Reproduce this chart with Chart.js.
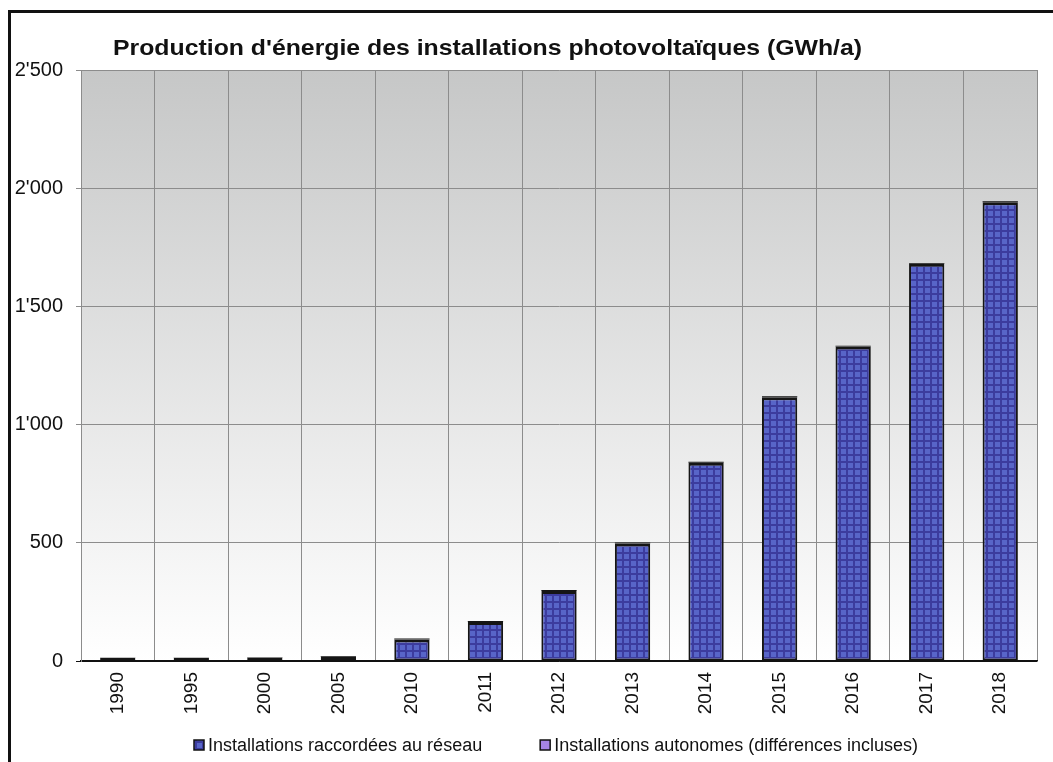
<!DOCTYPE html>
<html lang="fr">
<head>
    <meta charset="UTF-8">
    <title>Production d'énergie des installations photovoltaïques</title>
    <script src="https://cdn.jsdelivr.net/npm/chart.js"></script>
    <style>
        body { margin: 0; background: #fff; }
        #wrap { position: relative; width: 1053px; height: 762px; overflow: hidden; }
        #frame { position: absolute; left: 8px; top: 10px; width: 1100px; height: 800px;
                 border-left: 3px solid #111; border-top: 3px solid #111; }
        canvas { position: absolute; left: 0; top: 0; }
    </style>
</head>
<body>
<div id="wrap">
    <div id="frame"></div>
    <canvas id="pvChart" width="1053" height="762"></canvas>
</div>
<script>
    // données (GWh/a)
    const years = ['1990', '1995', '2000', '2005', '2010', '2011', '2012', '2013', '2014', '2015', '2016', '2017', '2018'];
    const gridConnected = [0.5, 2, 8, 18, 91, 165, 296, 497, 839, 1116, 1330, 1680, 1941];
    const standalone = [0.7, 1.3, 2.5, 3.5, 4, 4, 4, 4, 4, 4, 4, 4, 4];
    const seriesNames = ['Installations raccordées au réseau', 'Installations autonomes (différences incluses)'];
    const yTickValues = [0, 500, 1000, 1500, 2000, 2500];
    const yTickLabels = ['0', '500', "1'000", "1'500", "2'000", "2'500"];
    const chartTitle = "Production d'énergie des installations photovoltaïques (GWh/a)";

    const FONT = "'Liberation Sans', Arial, sans-serif";

    // motif quadrillé bleu des barres
    function makePattern() {
        const c = document.createElement('canvas');
        c.width = 7; c.height = 7;
        const g = c.getContext('2d');
        g.fillStyle = '#3c3c9e';
        g.fillRect(0, 0, 7, 7);
        g.fillStyle = '#5865c8';
        g.fillRect(1, 1, 5, 5);
        return g.createPattern(c, 'repeat');
    }
    const ctx = document.getElementById('pvChart').getContext('2d');
    const bluePattern = makePattern();
    const purple = '#a584e6';

    // fond dégradé de la zone de tracé
    const plotBackground = {
        id: 'plotBackground',
        beforeDraw(chart) {
            const a = chart.chartArea;
            const c = chart.ctx;
            const grad = c.createLinearGradient(0, a.top, 0, a.bottom);
            grad.addColorStop(0, '#c6c7c7');
            grad.addColorStop(1, '#ffffff');
            c.save();
            c.fillStyle = grad;
            c.fillRect(a.left, a.top, a.right - a.left, a.bottom - a.top);
            c.restore();
        }
    };

    // titre + légende
    const titleAndLegend = {
        id: 'titleAndLegend',
        afterDraw(chart) {
            const c = chart.ctx;
            c.save();
            // titre
            c.font = 'bold 22px ' + FONT;
            c.fillStyle = '#111';
            c.textBaseline = 'alphabetic';
            const tw = c.measureText(chartTitle).width;
            const sx = 749 / tw;
            c.translate(113, 55);
            c.scale(sx, 1);
            c.fillText(chartTitle, 0, 0);
            c.restore();

            // légende
            c.save();
            c.font = '18px ' + FONT;
            c.textBaseline = 'middle';
            const fills = [bluePattern, purple];
            let x = 194;
            const y = 745;
            seriesNames.forEach((name, i) => {
                c.fillStyle = fills[i];
                c.fillRect(x, y - 5, 10, 10);
                c.strokeStyle = '#111';
                c.lineWidth = 1.5;
                c.strokeRect(x, y - 5, 10, 10);
                c.fillStyle = '#111';
                c.fillText(name, x + 14, y + 1);
                x += 14 + c.measureText(name).width + 58;
            });
            c.restore();
        }
    };

    new Chart(ctx, {
        type: 'bar',
        data: {
            labels: years,
            datasets: [
                {
                    label: seriesNames[0],
                    data: gridConnected,
                    backgroundColor: bluePattern,
                    borderColor: '#151515',
                    borderWidth: { top: 3, left: 2, right: 2, bottom: 2 },
                    borderSkipped: false,
                    minBarLength: 3,
                    barPercentage: 0.48,
                    categoryPercentage: 1
                },
                {
                    // segment très fin: ne se voit que comme un liseré sombre
                    label: seriesNames[1],
                    data: standalone,
                    backgroundColor: '#151515',
                    borderWidth: 0,
                    barPercentage: 0.48,
                    categoryPercentage: 1
                }
            ]
        },
        options: {
            responsive: false,
            animation: false,
            layout: { padding: { left: 0, right: 16, top: 70, bottom: 41 } },
            plugins: {
                legend: { display: false },
                title: { display: false },
                tooltip: { enabled: false }
            },
            scales: {
                x: {
                    stacked: true,
                    afterFit(scale) { scale.height = 60; },
                    grid: { color: '#8c8c8c', lineWidth: 1, drawTicks: false, offset: true },
                    border: { color: '#111', width: 1.5 },
                    ticks: {
                        color: '#111',
                        font: { family: FONT, size: 19 },
                        minRotation: 90,
                        maxRotation: 90,
                        padding: 11
                    }
                },
                y: {
                    stacked: true,
                    min: 0,
                    max: 2500,
                    afterFit(scale) { scale.width = 81; },
                    afterBuildTicks(scale) { scale.ticks = yTickValues.map(v => ({ value: v })); },
                    grid: {
                        color: (c) => c.tick && c.tick.value === 0 ? '#111' : '#8c8c8c',
                        tickLength: 5
                    },
                    border: { color: '#8c8c8c' },
                    ticks: {
                        color: '#111',
                        font: { family: FONT, size: 20 },
                        padding: 13,
                        callback: (v) => yTickLabels[yTickValues.indexOf(v)]
                    }
                }
            }
        },
        plugins: [plotBackground, titleAndLegend]
    });
</script>
</body>
</html>
